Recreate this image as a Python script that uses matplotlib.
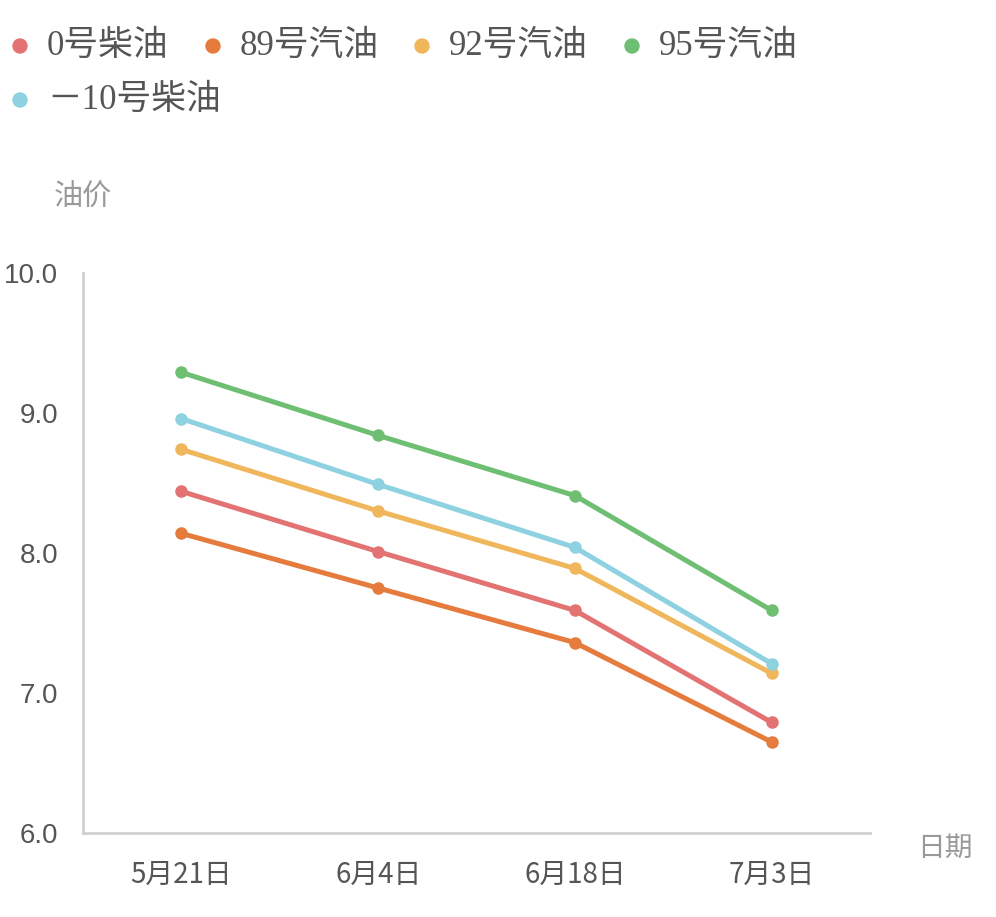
import matplotlib
matplotlib.use("Agg")
import matplotlib.pyplot as plt

dates = ["5月21日", "6月4日", "6月18日", "7月3日"]
series_names = ["0号柴油", "89号汽油", "92号汽油", "95号汽油", "－10号柴油"]
diesel0 = [8.44, 8.01, 7.59, 6.79]
gas89 = [8.14, 7.75, 7.36, 6.65]
gas92 = [8.74, 8.30, 7.89, 7.14]
gas95 = [9.29, 8.84, 8.41, 7.59]
diesel_m10 = [8.96, 8.49, 8.04, 7.21]
yticks = [6.0, 7.0, 8.0, 9.0, 10.0]

colors = ["#E37373", "#E57B3D", "#F0B65C", "#6FBF73", "#8ED1E0"]
values = [diesel0, gas89, gas92, gas95, diesel_m10]

fig = plt.figure(figsize=(9.96, 9.17), dpi=100)
ax = fig.add_axes([83/996, 84/917, 787/996, 560/917])

x = list(range(len(dates)))
for vals, c in zip(values, colors):
    ax.plot(x, vals, color=c, lw=3.6, marker="o", markersize=8, solid_capstyle="round", zorder=3)

ax.set_xlim(-0.5, 3.5)
ax.set_ylim(6.0, 10.0)
ax.set_yticks(yticks)
ax.set_yticklabels([f"{v:.1f}" for v in yticks], fontsize=20, color="#555555", family=["Liberation Sans", "DejaVu Sans"])
ax.set_xticks(x)
ax.set_xticklabels(dates, fontsize=20, color="#555555", family=["Noto Sans CJK SC", "DejaVu Sans"])
ax.tick_params(axis="both", length=0)
ax.tick_params(axis="y", pad=18)
ax.tick_params(axis="x", pad=19)
for s in ["top", "right"]:
    ax.spines[s].set_visible(False)
for s in ["left", "bottom"]:
    ax.spines[s].set_color("#D0D0D0")
    ax.spines[s].set_linewidth(2)

fig.text(83/996, 1 - 198/917, "油价", fontsize=21, color="#999999", ha="center", va="center",
         family=["Noto Sans CJK SC", "DejaVu Sans"])
fig.text(945/996, 1 - 848/917, "日期", fontsize=20, color="#999999", ha="center", va="center",
         family=["Noto Sans CJK SC", "DejaVu Sans"])

legend_pos = [(20, 46), (213, 46), (422, 46), (632, 46), (20, 100)]
for (mx, my), name, c in zip(legend_pos, series_names, colors):
    fig.patches.append(matplotlib.patches.Ellipse((mx/996, 1 - my/917), 14/996, 14/917,
                                                  transform=fig.transFigure, color=c, figure=fig))
    fig.text((mx + 27)/996, 1 - my/917, name, fontsize=25, color="#555555", ha="left", va="center",
             family=["Liberation Serif", "Noto Sans CJK SC"])

fig.savefig("out.png", dpi=100, facecolor="white")
